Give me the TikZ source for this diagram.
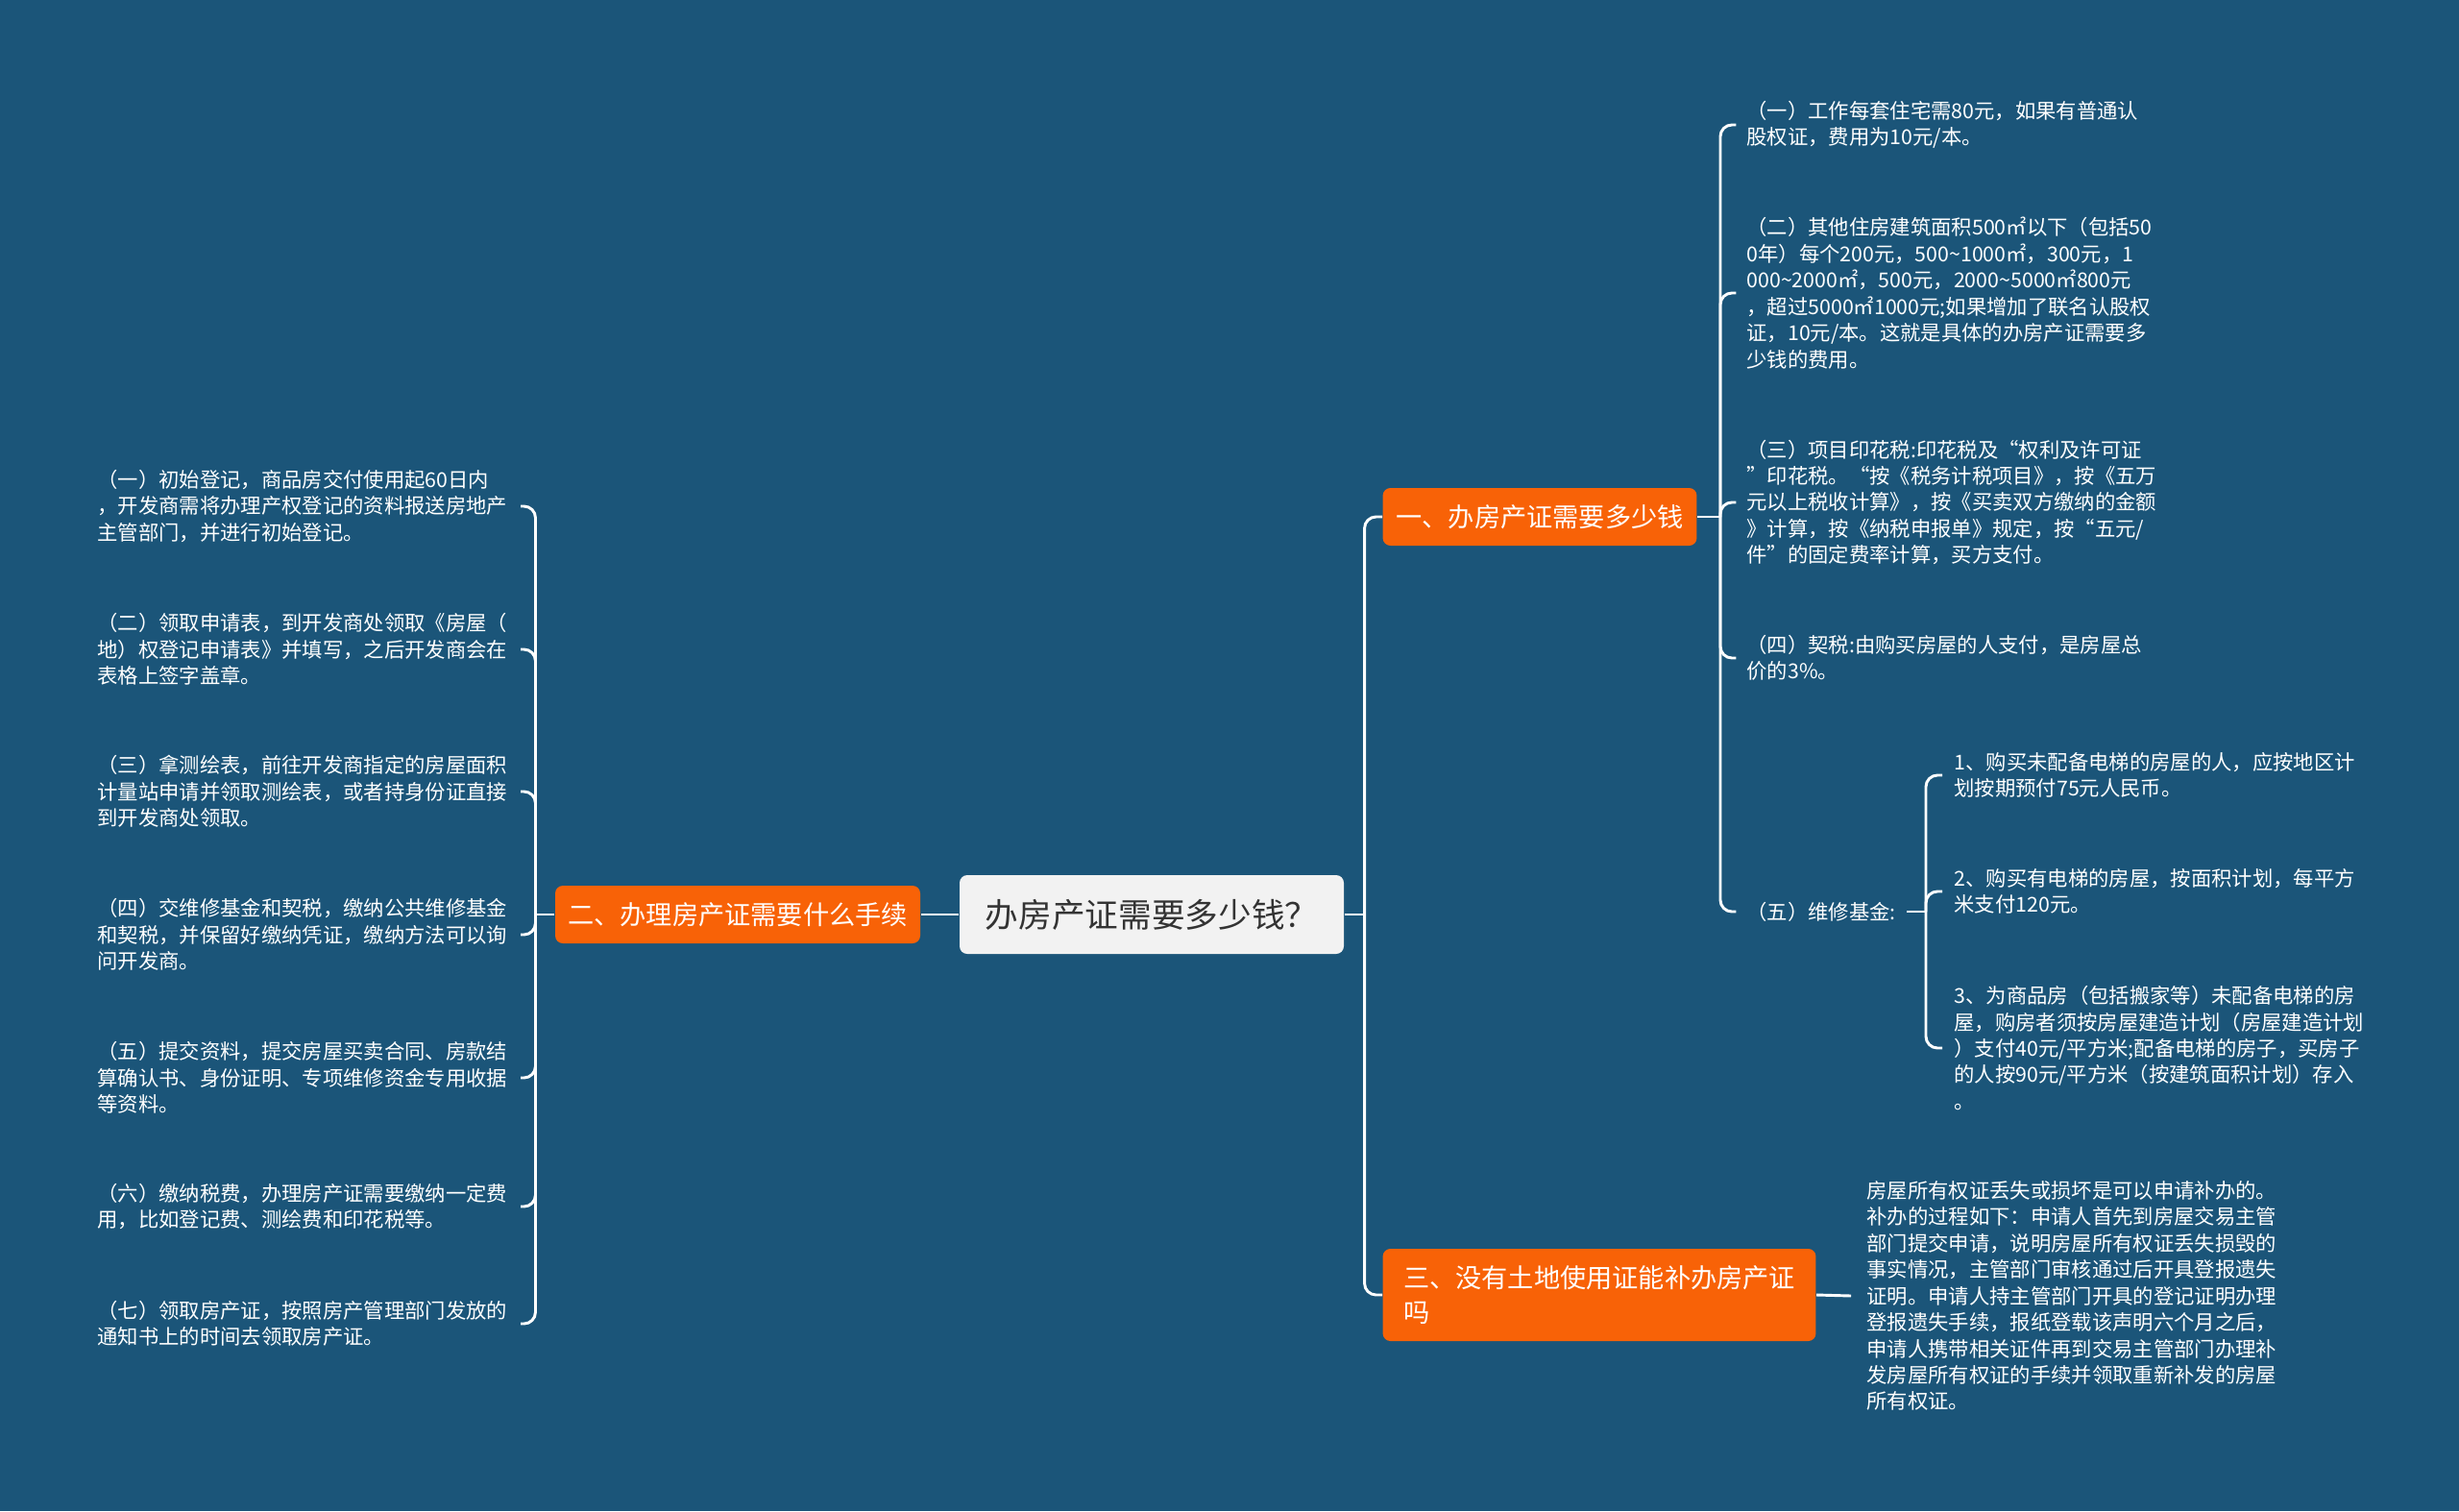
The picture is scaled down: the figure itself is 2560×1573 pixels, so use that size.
\documentclass[tikz,border=0pt]{standalone}
\usepackage{fontspec}
\setmainfont{Noto Sans CJK SC}
\usetikzlibrary{positioning}

\definecolor{bgblue}{HTML}{1B5579}
\definecolor{branchorange}{HTML}{F86207}
\definecolor{rootgray}{HTML}{F2F2F2}
\definecolor{rootink}{HTML}{333333}

\begin{document}
\begin{tikzpicture}[
		x=0.375pt, y=-0.375pt,
		% Define styles
		base/.style={rectangle, rounded corners=3pt, align=center},
		root/.style={base, fill=rootgray, text=rootink, font=\fontsize{13pt}{16pt}\selectfont, minimum width=150pt, minimum height=30.75pt},
		branch/.style={base, fill=branchorange, text=white, font=\fontsize{10.2pt}{13.5pt}\selectfont, minimum height=22.5pt},
		leaf/.style={align=left, inner sep=0pt, text=white, font=\fontsize{8pt}{10.3pt}\selectfont},
		link/.style={draw=white, line width=1.1pt, rounded corners=4.5pt}
		]
		
		% 0. Background
		\fill[bgblue] (0,0) rectangle (2560,1573);
		
		% 1. Root and branches
		\node[root] (root) at (1199,952) {办房产证需要多少钱？};
		\node[branch, minimum width=122.6pt] (howmuch) at (1603,538) {一、办房产证需要多少钱};
		\node[branch, minimum width=142.5pt] (steps) at (768,952) {二、办理房产证需要什么手续};
		\node[branch, minimum width=169.1pt, minimum height=36pt, align=left] (noland) at (1665,1348) {三、没有土地使用证能补办房产证\\吗};
		
		% 2. Left side: the steps
		\node[leaf, anchor=west] (step1) at (101,527) {（一）初始登记，商品房交付使用起60日内\\，开发商需将办理产权登记的资料报送房地产\\主管部门，并进行初始登记。};
		\node[leaf, anchor=west] (step2) at (101,676) {（二）领取申请表，到开发商处领取《房屋（\\地）权登记申请表》并填写，之后开发商会在\\表格上签字盖章。};
		\node[leaf, anchor=west] (step3) at (101,824) {（三）拿测绘表，前往开发商指定的房屋面积\\计量站申请并领取测绘表，或者持身份证直接\\到开发商处领取。};
		\node[leaf, anchor=west] (step4) at (101,973) {（四）交维修基金和契税，缴纳公共维修基金\\和契税，并保留好缴纳凭证，缴纳方法可以询\\问开发商。};
		\node[leaf, anchor=west] (step5) at (101,1122) {（五）提交资料，提交房屋买卖合同、房款结\\算确认书、身份证明、专项维修资金专用收据\\等资料。};
		\node[leaf, anchor=west] (step6) at (101,1256) {（六）缴纳税费，办理房产证需要缴纳一定费\\用，比如登记费、测绘费和印花税等。};
		\node[leaf, anchor=west] (step7) at (101,1378) {（七）领取房产证，按照房产管理部门发放的\\通知书上的时间去领取房产证。};
		
		% 3. Right side: the fees
		\node[leaf, anchor=west] (fee1) at (1818,130) {（一）工作每套住宅需80元，如果有普通认\\股权证，费用为10元/本。};
		\node[leaf, anchor=west] (fee2) at (1818,305) {（二）其他住房建筑面积500㎡以下（包括50\\0年）每个200元，500\textasciitilde 1000㎡，300元，1\\000\textasciitilde 2000㎡，500元，2000\textasciitilde 5000㎡800元\\，超过5000㎡1000元;如果增加了联名认股权\\证，10元/本。这就是具体的办房产证需要多\\少钱的费用。};
		\node[leaf, anchor=west] (fee3) at (1818,523) {（三）项目印花税:印花税及“权利及许可证\\”印花税。“按《税务计税项目》，按《五万\\元以上税收计算》，按《买卖双方缴纳的金额\\》计算，按《纳税申报单》规定，按“五元/\\件”的固定费率计算，买方支付。};
		\node[leaf, anchor=west] (fee4) at (1818,685) {（四）契税:由购买房屋的人支付，是房屋总\\价的3\%。};
		\node[leaf, anchor=west] (fee5) at (1818,949) {（五）维修基金:};
		
		% 4. Maintenance fund details
		\node[leaf, anchor=west] (fund1) at (2034,807) {1、购买未配备电梯的房屋的人，应按地区计\\划按期预付75元人民币。};
		\node[leaf, anchor=west] (fund2) at (2034,928) {2、购买有电梯的房屋，按面积计划，每平方\\米支付120元。};
		\node[leaf, anchor=west] (fund3) at (2034,1091) {3、为商品房（包括搬家等）未配备电梯的房\\屋，购房者须按房屋建造计划（房屋建造计划\\）支付40元/平方米;配备电梯的房子，买房子\\的人按90元/平方米（按建筑面积计划）存入\\。};
		
		% 5. Lost certificate
		\node[leaf, anchor=west] (lost) at (1943,1349) {房屋所有权证丢失或损坏是可以申请补办的。\\补办的过程如下：申请人首先到房屋交易主管\\部门提交申请，说明房屋所有权证丢失损毁的\\事实情况，主管部门审核通过后开具登报遗失\\证明。申请人持主管部门开具的登记证明办理\\登报遗失手续，报纸登载该声明六个月之后，\\申请人携带相关证件再到交易主管部门办理补\\发房屋所有权证的手续并领取重新补发的房屋\\所有权证。};
		
		% Connections
		\draw[link] (root.west) -- (steps.east);
		\draw[link] (root.east) -- ++(21,0) coordinate (rtrunk);
		\draw[link] (rtrunk) |- (howmuch.west);
		\draw[link] (rtrunk) |- (noland.west);
		
		\draw[link] (steps.west) -- ++(-20,0) coordinate (ltrunk);
		\foreach \n in {step1,step2,step3,step4,step5,step6,step7}
			\draw[link, shorten >=5pt] (ltrunk) |- (\n.east);
		
		\draw[link] (howmuch.east) -- ++(24,0) coordinate (ftrunk);
		\foreach \n in {fee1,fee2,fee3,fee4,fee5}
			\draw[link, shorten >=4pt] (ftrunk) |- (\n.west);
		
		\coordinate (mtrunk) at (2005,949);
		\draw[link] ([xshift=4pt]fee5.east) -- (mtrunk);
		\foreach \n in {fund1,fund2,fund3}
			\draw[link, shorten >=4.5pt] (mtrunk) |- (\n.west);
		
		\draw[link] (noland.east) -- ([xshift=-6pt]lost.west);
		
	\end{tikzpicture}
\end{document}
